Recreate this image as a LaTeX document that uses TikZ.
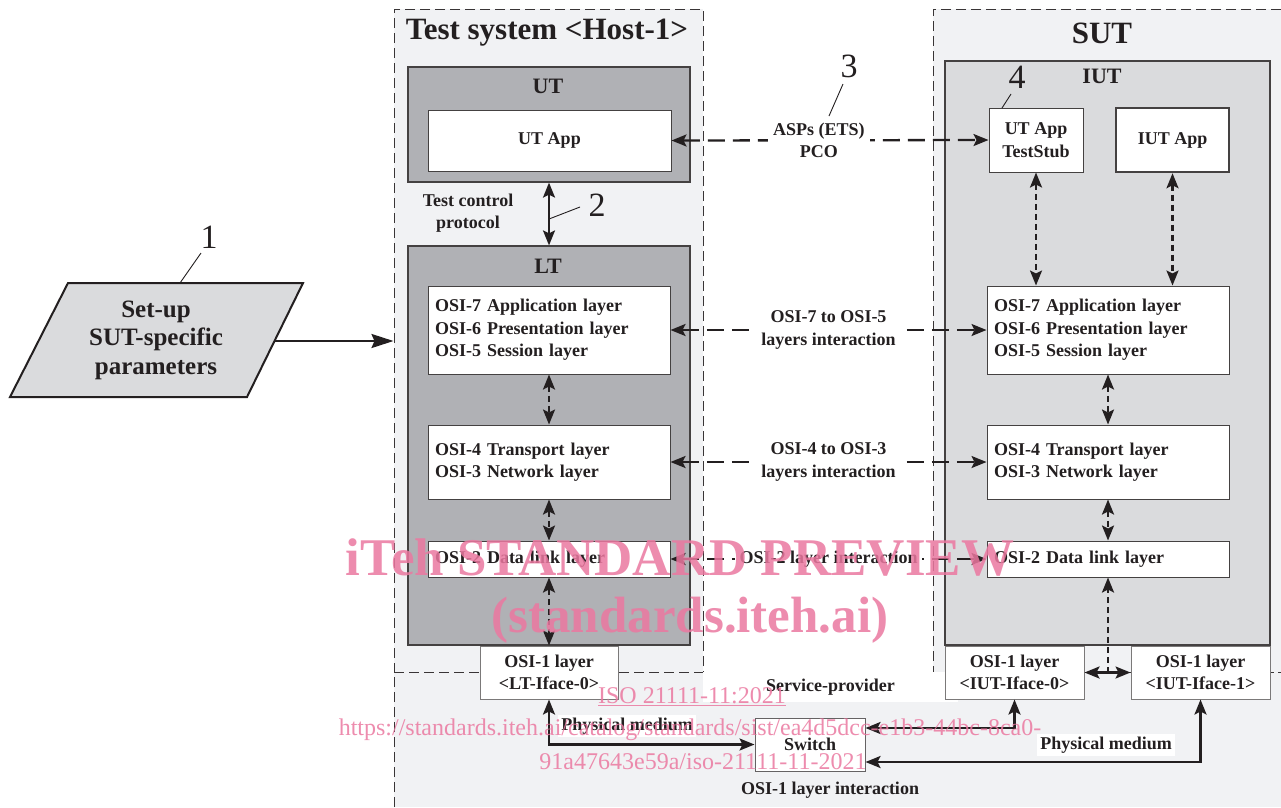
\documentclass[tikz,border=0pt]{standalone}
\usepackage{fontspec}
\setmainfont{Liberation Serif}
\usetikzlibrary{arrows.meta}
\definecolor{bgl}{HTML}{F1F2F4}
\definecolor{dgray}{HTML}{B0B1B5}
\definecolor{lgray}{HTML}{DADBDD}
\definecolor{ink}{HTML}{231F20}
\definecolor{wm}{RGB}{235,120,160}
\begin{document}
\begin{tikzpicture}[x=1pt,y=-1pt,
  font=\bfseries\fontsize{18}{22.5}\selectfont, text=ink,
  >={Stealth[length=15pt,width=12pt,inset=3pt]},
  box/.style={draw=ink!85, line width=1pt, fill=white, inner sep=0pt, align=center},
  osibox/.style={box, minimum width=242pt, text width=228pt, align=left},
  ifbox/.style={box, draw=ink!60, minimum height=53pt, align=center},
  dashbox/.style={draw=ink!90, line width=1pt, dash pattern=on 10pt off 5pt, fill=bgl, inner sep=0pt},
  grpbox/.style={draw=ink!85, line width=1.2pt, inner sep=0pt},
  grplabel/.style={font=\bfseries\fontsize{22}{26}\selectfont},
  title/.style={font=\bfseries\fontsize{31}{34}\selectfont},
  longdash/.style={<->, line width=2.3pt, dash pattern=on 17pt off 8pt, draw=ink},
  shortdash/.style={<->, line width=2.3pt, dash pattern=on 6pt off 4pt, draw=ink},
  solidarr/.style={<->, line width=2.3pt, draw=ink},
  lbl/.style={fill=white, inner sep=5pt, align=center},
  callout/.style={font=\fontsize{34}{36}\selectfont, inner sep=0pt},
  calline/.style={line width=0.9pt, draw=ink},
  wmtext/.style={text=wm, opacity=0.85, inner sep=0pt}
]
\useasboundingbox (0,0) rectangle (1281,807);
\fill[white] (0,0) rectangle (1281,807);

% bottom service-provider region
\fill[bgl] (394,672) rectangle (1281,807);
\draw[ink!90, line width=1pt, dash pattern=on 10pt off 5pt] (394,807) -- (394,672) -- (1281,672);

% Test system and SUT
\node[dashbox, minimum width=309pt, minimum height=663pt] (ts) at (548.5,340.5) {};
\node[title] (tstitle) at (547,33) {Test system <Host-1>};
\node[dashbox, minimum width=360pt, minimum height=663pt] (sut) at (1113,340.5) {};
\node[title] (suttitle) at (1102,33) {SUT};

% white patch behind Service-provider
\node[fill=white, minimum width=255pt, minimum height=30pt, inner sep=0pt] (sp) at (830.5,687) {Service-provider};

% UT
\node[grpbox, fill=dgray, minimum width=282pt, minimum height=115pt] (ut) at (549,124.5) {};
\node[grplabel] (utl) at (548,86) {UT};
\node[box, minimum width=243pt, minimum height=61pt] (utapp) at (549.5,140.5) {UT App};

% LT
\node[grpbox, fill=dgray, minimum width=282pt, minimum height=399pt] (lt) at (549,445.5) {};
\node[grplabel] (ltl) at (548,266) {LT};
\node[osibox, minimum height=88pt] (lt7) at (549,330) {OSI-7 Application layer\\OSI-6 Presentation layer\\OSI-5 Session layer};
\node[osibox, minimum height=74pt] (lt4) at (549,462) {OSI-4 Transport layer\\OSI-3 Network layer};
\node[osibox, minimum height=36pt] (lt2) at (549,559) {OSI-2 Data link layer};
\node[ifbox, minimum width=138pt] (lt1) at (549,672.5) {OSI-1 layer\\<LT-Iface-0>};

% IUT
\node[grpbox, fill=lgray, minimum width=325pt, minimum height=584pt] (iut) at (1107.5,353) {};
\node[grplabel] (iutl) at (1102,76) {IUT};
\node[box, minimum width=94pt, minimum height=64pt] (stub) at (1036,140) {UT App\\TestStub};
\node[box, line width=2.5pt, minimum width=113pt, minimum height=64pt] (iutapp) at (1172.5,140) {IUT App};
\node[osibox, minimum height=88pt] (sut7) at (1108,330) {OSI-7 Application layer\\OSI-6 Presentation layer\\OSI-5 Session layer};
\node[osibox, minimum height=74pt] (sut4) at (1108,462) {OSI-4 Transport layer\\OSI-3 Network layer};
\node[osibox, minimum height=36pt] (sut2) at (1108,559) {OSI-2 Data link layer};
\node[ifbox, minimum width=139pt] (iut0) at (1014.5,672.5) {OSI-1 layer\\<IUT-Iface-0>};
\node[ifbox, minimum width=139pt] (iut1) at (1200.5,672.5) {OSI-1 layer\\<IUT-Iface-1>};

% Switch
\node[box, draw=ink!70, minimum width=110pt, minimum height=53pt] (sw) at (810,744.5) {Switch};

% set-up parallelogram
\draw[line width=2pt, draw=ink, fill=lgray] (68,283) -- (303,283) -- (247,397) -- (10,397) -- cycle;
\node[align=center, font=\bfseries\fontsize{25}{28.5}\selectfont] (setup) at (156,340) {Set-up\\SUT-specific\\parameters};
\coordinate (setupR) at (275,341);
\draw[-{Stealth[length=22pt,width=14pt,inset=3pt]}, line width=2.3pt, draw=ink] (setupR) -- (ts.west |- setupR);

% vertical connectors
\draw[solidarr] (ut.south) -- (lt.north);
\node[align=center] (tcp) at (468,213) {Test control\\protocol};
\draw[shortdash] (lt7.south) -- (lt4.north);
\draw[shortdash] (lt4.south) -- (lt2.north);
\draw[shortdash] (lt2.south) -- (lt1.north);
\draw[shortdash] (stub.south) -- (stub.south |- sut7.north);
\draw[shortdash] (iutapp.south) -- (iutapp.south |- sut7.north);
\draw[shortdash] (sut7.south) -- (sut4.north);
\draw[shortdash] (sut4.south) -- (sut2.north);
\draw[solidarr] (iut0.east) -- (iut1.west);
\coordinate (ifmid) at (sut2.south |- iut0.east);
\draw[shortdash, -] (ifmid) -- ([yshift=-14pt]sut2.south);
\draw[->, line width=2.3pt, draw=ink] ([yshift=-15pt]sut2.south) -- (sut2.south);

% horizontal interactions
\draw[longdash] (utapp.east) -- node[lbl, pos=0.465] (asp) {ASPs (ETS)\\PCO} (stub.west);
\draw[longdash] (lt7.east) -- node[lbl] (i75) {OSI-7 to OSI-5\\layers interaction} (sut7.west);
\draw[longdash] (lt4.east) -- node[lbl] (i43) {OSI-4 to OSI-3\\layers interaction} (sut4.west);
\draw[longdash] (lt2.east) -- node[lbl] (i2) {OSI-2 layer interaction} (sut2.west);

% physical medium
\draw[solidarr] (lt1.south) |- (sw.west);
\draw[solidarr] ([yshift=16.5pt]sw.east) -| (iut0.south);
\draw[solidarr] ([yshift=-17.5pt]sw.east) -| (iut1.south);
\node[fill=white, inner sep=3pt] (pm1) at (627,726) {Physical medium};
\node[fill=white, inner sep=3pt] (pm2) at (1106,745) {Physical medium};
\node (osi1i) at (830,790) {OSI-1 layer interaction};

% callouts
\node[callout] (c1) at (209,237) {1};
\draw[calline] (180,283) -- (201,253);
\node[callout] (c2) at (597,205) {2};
\draw[calline] (549,219) -- (580,207);
\node[callout] (c3) at (849,66) {3};
\draw[calline] (829,116) -- (843,84);
\node[callout] (c4) at (1017,77) {4};
\draw[calline] (1002,108) -- (1011,94);

% watermark
\node[wmtext, font=\bfseries\fontsize{53}{56}\selectfont] (wm1) at (680,558) {iTeh STANDARD PREVIEW};
\node[wmtext, font=\bfseries\fontsize{51}{54}\selectfont] (wm2) at (690,620) {(standards.iteh.ai)};
\node[wmtext, font=\fontsize{24}{26}\selectfont] (wm3) at (692,697) {\underline{ISO 21111-11:2021}};
\node[wmtext, font=\fontsize{24}{26}\selectfont] (wm4) at (690,730) {https://standards.iteh.ai/catalog/standards/sist/ea4d5dcc-e1b3-44bc-8ca0-};
\node[wmtext, font=\fontsize{24}{26}\selectfont] (wm5) at (703,762) {91a47643e59a/iso-21111-11-2021};
\end{tikzpicture}
\end{document}
